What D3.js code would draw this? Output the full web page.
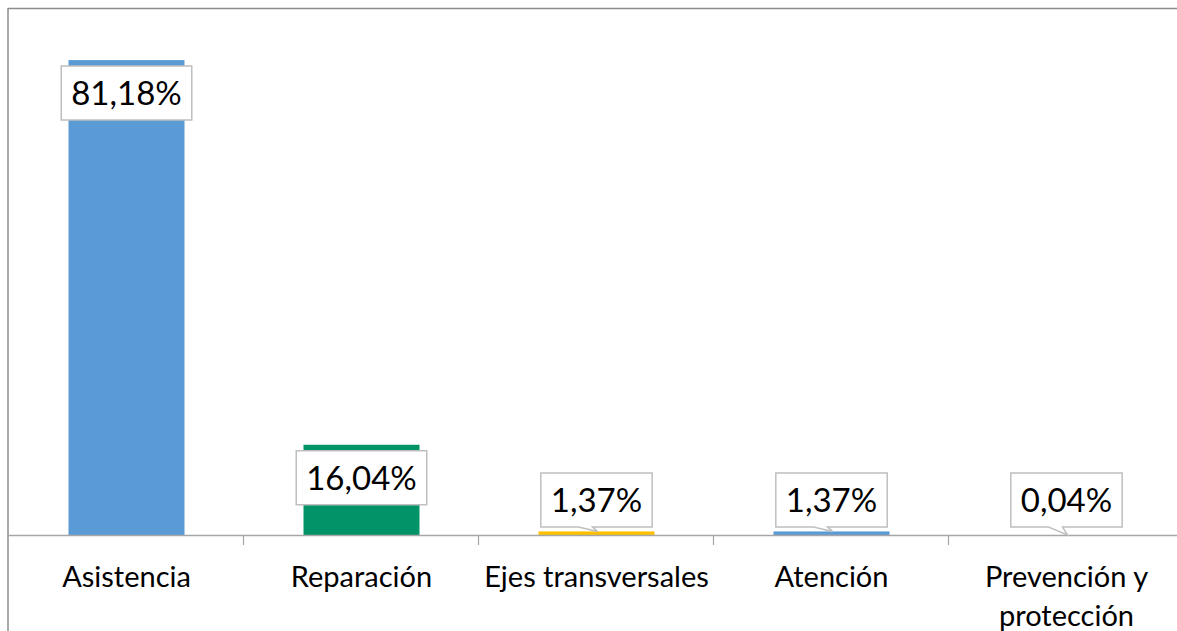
<!DOCTYPE html>
<html>
  <head>
    <meta charset="utf-8">
    <title>Porcentaje por componente</title>
    <script src="https://cdn.jsdelivr.net/npm/d3@7"></script>
  </head>

  <style>
    body {
      margin: 0;
      background: #ffffff;
    }
    text {
      font-family: Lato, "Open Sans", sans-serif;
      fill: #000000;
    }
  </style>

  <body>
    <script>

      // datos
      var categories = ["Asistencia", "Reparación", "Ejes transversales", "Atención", "Prevención y protección"];
      var values = [81.18, 16.04, 1.37, 1.37, 0.04];
      var labels = ["81,18%", "16,04%", "1,37%", "1,37%", "0,04%"];
      var colors = ["#5B9BD5", "#039369", "#FFC000", "#5B9BD5", "#5B9BD5"];

      var width = 1177,
        height = 631;

      var axisY = 535;

      var svg = d3.select("body")
        .append("svg")
        .attr("width", width)
        .attr("height", height);

      var x = d3.scaleBand()
        .domain(categories)
        .range([9, 9 + 5 * 235])
        .padding(0);

      var y = d3.scaleLinear()
        .domain([0, 90])
        .range([539.5, 8]);

      // marco
      svg.append("line")
        .attr("x1", 8).attr("x2", width)
        .attr("y1", 8.5).attr("y2", 8.5)
        .attr("stroke", "#8c8c8c")
        .attr("stroke-width", 1.5);
      svg.append("line")
        .attr("x1", 8).attr("x2", 8)
        .attr("y1", 8).attr("y2", height)
        .attr("stroke", "#8c8c8c")
        .attr("stroke-width", 1.5);

      var bw = 116;

      // barras (desde el eje horizontal)
      svg.selectAll(".bar")
        .data(values)
        .enter()
        .append("rect")
        .attr("class", "bar")
        .attr("x", (d, i) => x(categories[i]) + x.bandwidth() / 2 - bw / 2)
        .attr("width", bw)
        .attr("y", d => Math.min(y(d), axisY))
        .attr("height", d => Math.max(0, axisY - y(d)))
        .attr("fill", (d, i) => colors[i]);

      // eje
      svg.append("line")
        .attr("x1", 8).attr("x2", width)
        .attr("y1", axisY + 0.5).attr("y2", axisY + 0.5)
        .attr("stroke", "#a6a6a6")
        .attr("stroke-width", 1.5);

      svg.selectAll(".tick")
        .data(categories.slice(1))
        .enter()
        .append("line")
        .attr("class", "tick")
        .attr("x1", d => Math.round(x(d)) - 0.5)
        .attr("x2", d => Math.round(x(d)) - 0.5)
        .attr("y1", axisY)
        .attr("y2", axisY + 10)
        .attr("stroke", "#a6a6a6")
        .attr("stroke-width", 1.2);

      // etiquetas de categoria
      var catText = svg.selectAll(".cat")
        .data(categories)
        .enter()
        .append("text")
        .attr("class", "cat")
        .attr("text-anchor", "middle")
        .attr("font-size", "29px")
        .attr("x", d => x(d) + x.bandwidth() / 2)
        .attr("y", 587);

      catText.each(function(d) {
        var t = d3.select(this);
        var words = d.split(" ");
        var line = [];
        var lines = [];
        var tmp = t.append("tspan");
        words.forEach(w => {
          line.push(w);
          tmp.text(line.join(" "));
          if (tmp.node().getComputedTextLength() > 232 && line.length > 1) {
            line.pop();
            lines.push(line.join(" "));
            line = [w];
          }
        });
        lines.push(line.join(" "));
        tmp.remove();
        lines.forEach((l, k) => {
          t.append("tspan")
            .attr("x", x(d) + x.bandwidth() / 2)
            .attr("dy", k === 0 ? 0 : 39)
            .text(l);
        });
      });

      // etiquetas de datos (globos)
      var boxH = 54;
      var lab = svg.selectAll(".lab")
        .data(values)
        .enter()
        .append("g")
        .attr("class", "lab");

      lab.each(function(d, i) {
        var g = d3.select(this);
        var cx = x(categories[i]) + x.bandwidth() / 2;
        var tip = Math.min(y(d), axisY);
        var top = Math.min(y(d) + 6, axisY - 8 - boxH);

        var txt = g.append("text")
          .attr("font-size", "33px")
          .attr("text-anchor", "middle")
          .attr("x", cx)
          .attr("y", top + boxH / 2)
          .attr("dy", "0.36em")
          .text(labels[i]);
        var w = txt.node().getComputedTextLength() + 20;
        var l = cx - w / 2, r = cx + w / 2, b = top + boxH;

        var p = "M" + l + "," + top + "H" + r + "V" + b;
        if (tip > b) {
          p += "H" + (cx - 4) + "L" + (cx + 1) + "," + tip + "L" + (cx - 18) + "," + b;
        }
        p += "H" + l + "Z";

        g.insert("path", "text")
          .attr("d", p)
          .attr("fill", "#ffffff")
          .attr("stroke", "#bfbfbf")
          .attr("stroke-width", 1.5);
      });

    </script>
  </body>
</html>
